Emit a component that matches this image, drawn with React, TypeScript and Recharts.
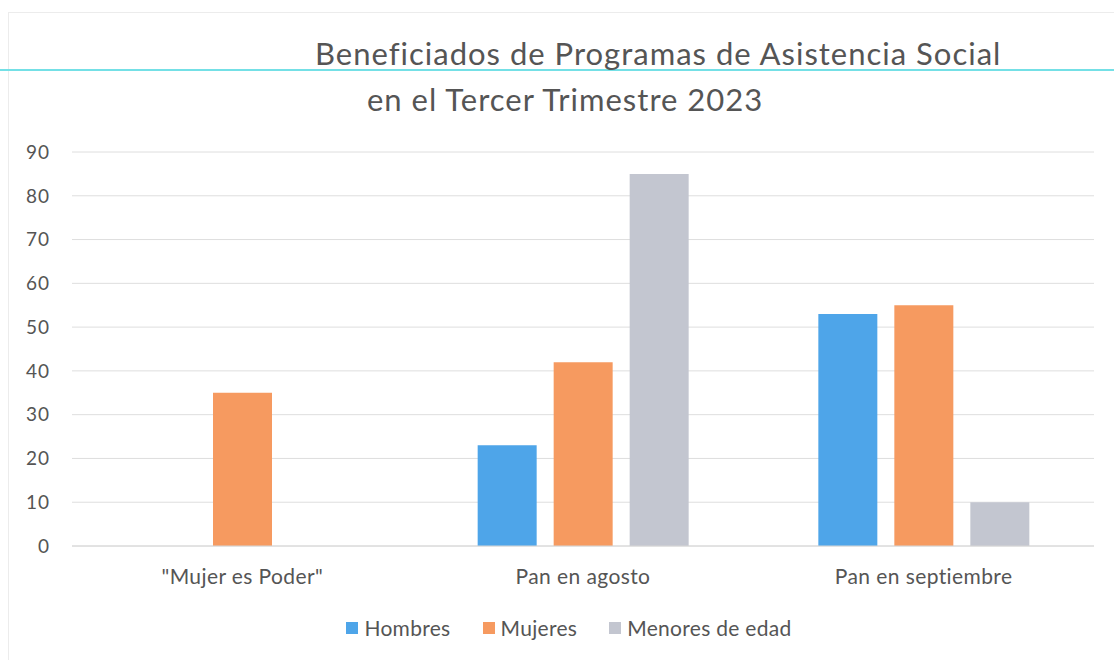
import { BarChart, Bar, XAxis, YAxis, CartesianGrid, Legend } from 'recharts';

const categories = ['"Mujer es Poder"', 'Pan en agosto', 'Pan en septiembre'];
const hombres = [0, 23, 53];
const mujeres = [35, 42, 55];
const menores = [0, 85, 10];
const yTicks = [0, 10, 20, 30, 40, 50, 60, 70, 80, 90];

const series = [
  { key: 'hombres', name: 'Hombres', color: '#4ea5e9' },
  { key: 'mujeres', name: 'Mujeres', color: '#f69a60' },
  { key: 'menores', name: 'Menores de edad', color: '#c3c6d0' },
];

const data = categories.map((name, i) => ({
  name,
  hombres: hombres[i],
  mujeres: mujeres[i],
  menores: menores[i],
}));

const FONT = 'Lato, "Open Sans", sans-serif';
const TEXT = '#555555';

// keep the legend in series order (recharts sorts the payload by name)
const LegendContent = () => (
  <div style={{ display: 'flex', justifyContent: 'center', gap: 32, fontFamily: FONT, fontSize: 21, color: TEXT, paddingLeft: 24 }}>
    {series.map((s) => (
      <div key={s.key} style={{ display: 'flex', alignItems: 'center', gap: 6 }}>
        <span style={{ width: 12, height: 12, background: s.color, display: 'inline-block' }} />
        <span style={{ letterSpacing: 0.3 }}>{s.name}</span>
      </div>
    ))}
  </div>
);

export default function App() {
  return (
    <div style={{ position: 'relative', width: 1114, height: 660, background: '#fff', overflow: 'hidden' }}>
      <style>{`body{margin:0}`}</style>
      <div style={{ position: 'absolute', left: 8, top: 12, right: 0, bottom: 0, borderLeft: '1px solid #ececec', borderTop: '1px solid #ececec' }} />
      <div style={{ position: 'absolute', left: 0, top: 69, width: 1114, height: 2, background: '#74e0e6' }} />
      <div style={{ position: 'absolute', left: 315, top: 34, fontFamily: FONT, fontSize: 31, letterSpacing: 1, color: TEXT, whiteSpace: 'nowrap' }}>
        Beneficiados de Programas de Asistencia Social
      </div>
      <div style={{ position: 'absolute', left: 367, top: 80, fontFamily: FONT, fontSize: 31, letterSpacing: 1, color: TEXT, whiteSpace: 'nowrap' }}>
        en el Tercer Trimestre 2023
      </div>
      <BarChart
        width={1114}
        height={660}
        data={data}
        margin={{ top: 152, right: 20, bottom: 74, left: 0 }}
        barSize={59}
        barGap={17}
        style={{ position: 'absolute', left: 0, top: 0 }}
      >
        <CartesianGrid vertical={false} stroke="#dedede" />
        <XAxis
          dataKey="name"
          axisLine={{ stroke: '#d6d6d6' }}
          tickLine={false}
          tickSize={0}
          tickMargin={23}
          height={40}
          tick={{ fill: TEXT, fontSize: 21, fontFamily: FONT, letterSpacing: 0.4 }}
        />
        <YAxis
          domain={[0, 90]}
          ticks={yTicks}
          axisLine={false}
          tickLine={false}
          tickSize={0}
          tickMargin={22}
          width={72}
          tick={{ fill: TEXT, fontSize: 19, fontFamily: FONT, letterSpacing: 1 }}
        />
        <Legend
          layout="horizontal"
          verticalAlign="middle"
          align="center"
          content={<LegendContent />}
          wrapperStyle={{ top: 615, left: 0, width: 1114 }}
        />
        {series.map((s) => (
          <Bar key={s.key} dataKey={s.key} name={s.name} fill={s.color} isAnimationActive={false} />
        ))}
      </BarChart>
    </div>
  );
}
